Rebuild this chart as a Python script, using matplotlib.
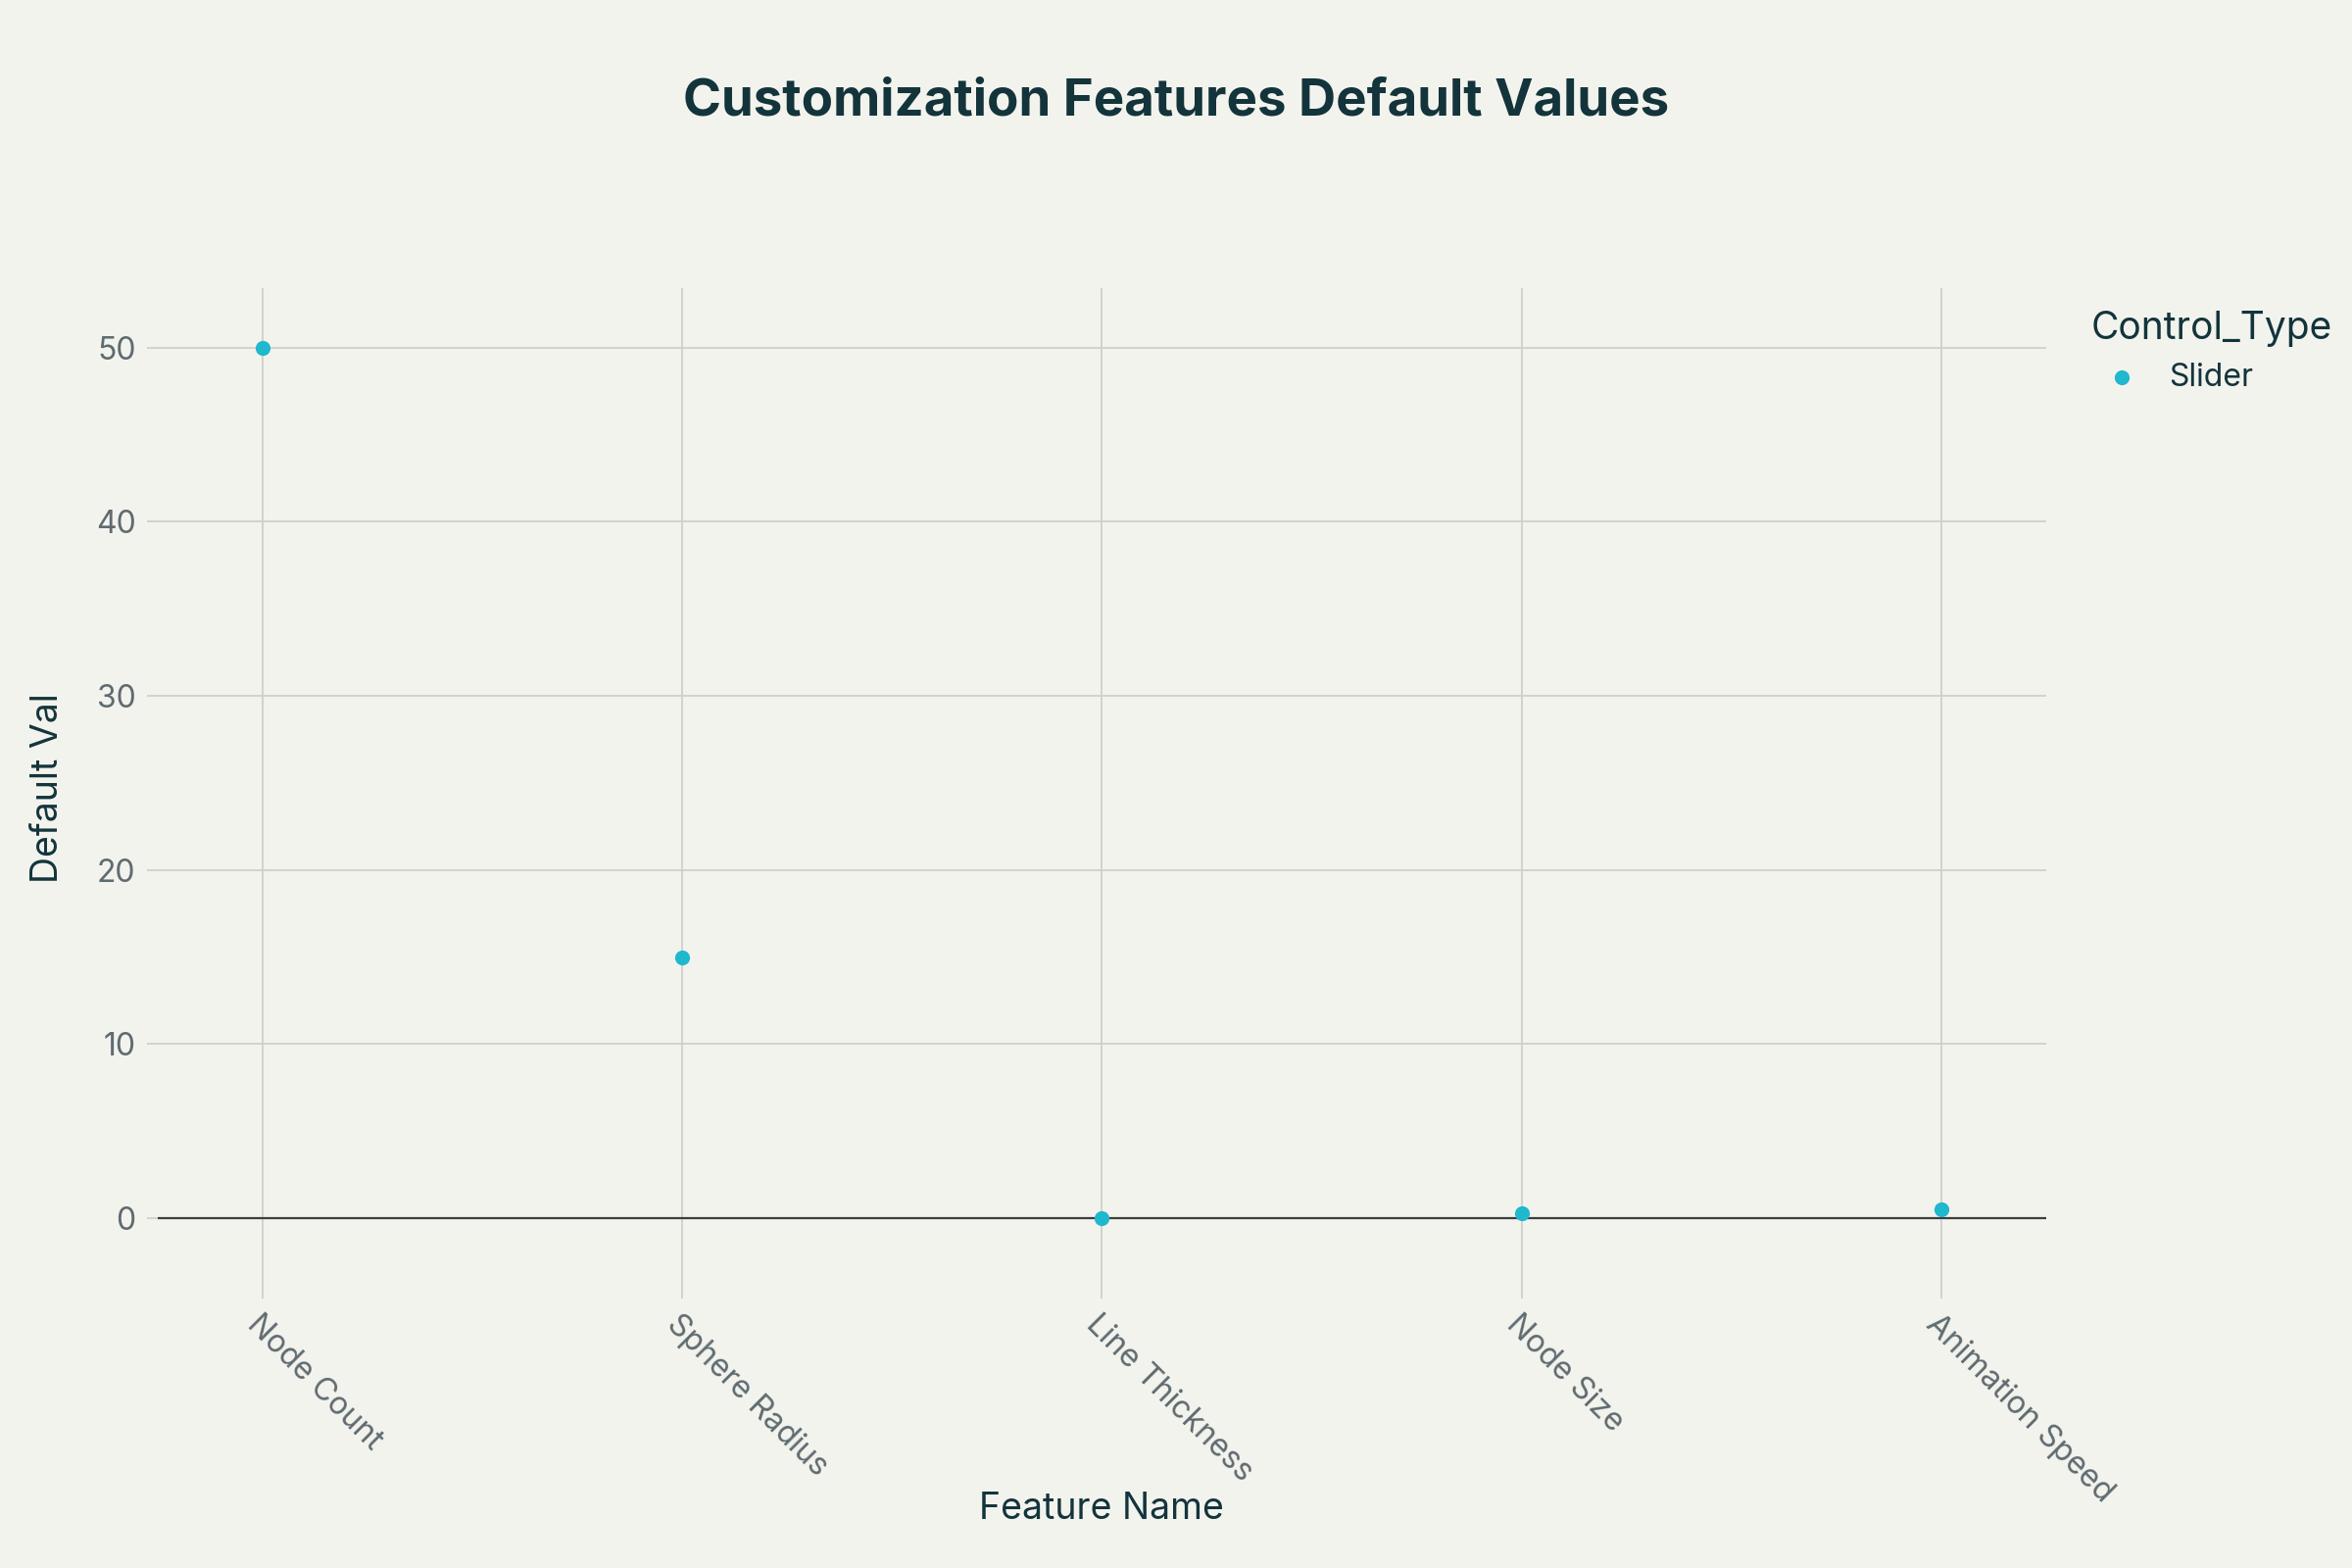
import numpy as np
import matplotlib
matplotlib.use("Agg")
from matplotlib import pyplot as plt

# data
features = ["Node Count", "Sphere Radius", "Line Thickness", "Node Size", "Animation Speed"]
default_vals = [50, 15, 0.02, 0.3, 0.5]
control_type = "Slider"

bg = "#F3F3EE"
dot_col = "#1FB8CD"
dark = "#13343B"
tick_col = "#5F6B70"
grid_col = "#D0D0CB"

plt.rcParams['font.family'] = ['Inter', 'DejaVu Sans']

fig = plt.figure(figsize=(24, 16), dpi=100, facecolor=bg)
ax = fig.add_axes([0.067, 0.179, 0.803, 0.637], facecolor=bg)

x = np.arange(len(features))
ax.scatter(x, default_vals, s=120, color=dot_col, zorder=4, label=control_type, linewidths=0)

ax.set_xlim(-0.25, len(features) - 0.75)
ax.set_ylim(-3.97, 53.4)
ax.set_yticks([0, 10, 20, 30, 40, 50])
ax.set_xticks(x)
ax.set_xticklabels(features, rotation=-45, ha='left', rotation_mode='anchor')

ax.grid(True, color=grid_col, lw=1.3, zorder=0)
ax.axhline(0, color="#3D3D3D", lw=1.6, zorder=2)
for s in ax.spines.values():
    s.set_visible(False)
ax.tick_params(axis='both', colors=grid_col, labelcolor=tick_col, labelsize=23,
               length=8, width=1.3, pad=8)

ax.set_xlabel("Feature Name", fontsize=27, color=dark, labelpad=-12)
ax.set_ylabel("Default Val", fontsize=27, color=dark, labelpad=22)

fig.suptitle("Customization Features Default Values", x=0.5, y=0.95,
             fontsize=38, fontweight='bold', color=dark)

leg = ax.legend(title="Control_Type", loc='upper left', bbox_to_anchor=(1.012, 1.0),
                frameon=False, fontsize=23, title_fontsize=28, handletextpad=0.5,
                markerscale=1.0, borderaxespad=0.3)
leg._legend_box.align = "left"
leg.get_title().set_color(dark)
for t in leg.get_texts():
    t.set_color(dark)

fig.savefig("out.png", dpi=100, facecolor=bg)
